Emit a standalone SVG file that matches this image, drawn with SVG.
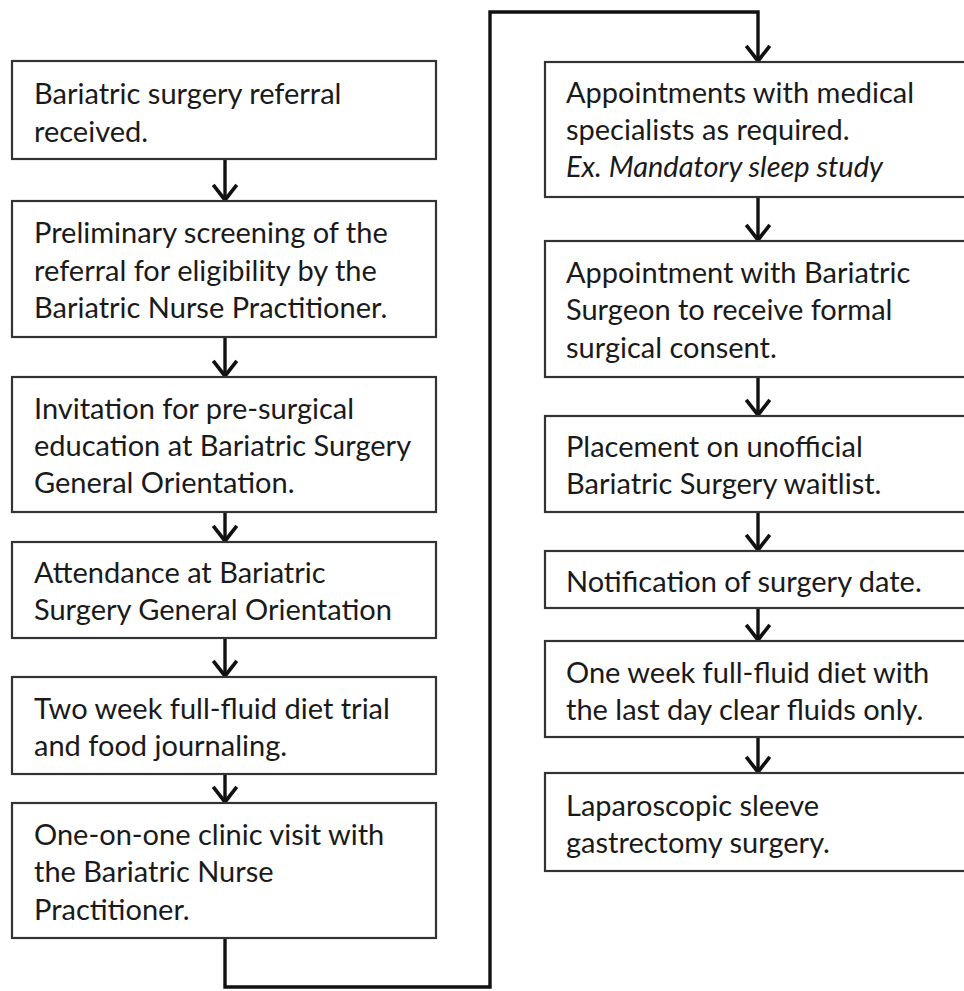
<svg xmlns="http://www.w3.org/2000/svg" width="964" height="991" viewBox="0 0 964 991">
  <style>
    .box { fill: #ffffff; stroke: #333333; stroke-width: 2.2; }
    .lbl { font-family: Lato, "Open Sans", "Liberation Sans", sans-serif; font-size: 29px; fill: #1a1a1a; }
    .it { font-style: italic; }
    .flow { fill: none; stroke: #111111; stroke-width: 3.4; }
  </style>
  <defs>
    <!-- open chevron head, drawn along +x so orient="auto" points it down the line -->
    <marker id="chev" markerUnits="userSpaceOnUse" markerWidth="24" markerHeight="30" viewBox="-18 -14 22 28" refX="0" refY="0" orient="auto">
      <path d="M-15,-11 L-1,0 L-15,11" fill="none" stroke="#111111" stroke-width="3.4"/>
    </marker>
  </defs>

  <rect width="964" height="991" fill="#ffffff"/>

  <!-- connectors -->
  <g id="connectors">
    <line class="flow" x1="225" y1="159" x2="225" y2="201" marker-end="url(#chev)"/>
    <line class="flow" x1="225" y1="337" x2="225" y2="377" marker-end="url(#chev)"/>
    <line class="flow" x1="225" y1="512" x2="225" y2="542" marker-end="url(#chev)"/>
    <line class="flow" x1="225" y1="638" x2="225" y2="677" marker-end="url(#chev)"/>
    <line class="flow" x1="225" y1="774" x2="225" y2="803" marker-end="url(#chev)"/>
    <path class="flow" d="M225,938 L225,987 L490,987 L490,12 L758,12 L758,62" marker-end="url(#chev)"/>
    <line class="flow" x1="758" y1="197" x2="758" y2="241" marker-end="url(#chev)"/>
    <line class="flow" x1="758" y1="377" x2="758" y2="416" marker-end="url(#chev)"/>
    <line class="flow" x1="758" y1="512" x2="758" y2="551" marker-end="url(#chev)"/>
    <line class="flow" x1="758" y1="608" x2="758" y2="641" marker-end="url(#chev)"/>
    <line class="flow" x1="758" y1="737" x2="758" y2="773" marker-end="url(#chev)"/>
  </g>

  <!-- left column -->
  <g id="referral">
    <rect class="box" x="12" y="61" width="424" height="98"/>
    <text class="lbl" x="34" y="104">Bariatric surgery referral</text>
    <text class="lbl" x="34" y="142">received.</text>
  </g>
  <g id="screening">
    <rect class="box" x="12" y="201" width="424" height="136"/>
    <text class="lbl" x="34" y="243">Preliminary screening of the</text>
    <text class="lbl" x="34" y="281">referral for eligibility by the</text>
    <text class="lbl" x="34" y="318">Bariatric Nurse Practitioner.</text>
  </g>
  <g id="invitation">
    <rect class="box" x="12" y="377" width="424" height="135"/>
    <text class="lbl" x="34" y="419">Invitation for pre-surgical</text>
    <text class="lbl" x="34" y="456">education at Bariatric Surgery</text>
    <text class="lbl" x="34" y="493">General Orientation.</text>
  </g>
  <g id="attendance">
    <rect class="box" x="12" y="542" width="424" height="96"/>
    <text class="lbl" x="34" y="583">Attendance at Bariatric</text>
    <text class="lbl" x="34" y="620">Surgery General Orientation</text>
  </g>
  <g id="diet-trial">
    <rect class="box" x="12" y="677" width="424" height="97"/>
    <text class="lbl" x="34" y="719">Two week full-fluid diet trial</text>
    <text class="lbl" x="34" y="756">and food journaling.</text>
  </g>
  <g id="clinic-visit">
    <rect class="box" x="12" y="803" width="424" height="135"/>
    <text class="lbl" x="34" y="845">One-on-one clinic visit with</text>
    <text class="lbl" x="34" y="882">the Bariatric Nurse</text>
    <text class="lbl" x="34" y="920">Practitioner.</text>
  </g>

  <!-- right column (boxes run off the right edge) -->
  <g id="specialists">
    <rect class="box" x="545" y="62" width="430" height="135"/>
    <text class="lbl" x="566" y="103">Appointments with medical</text>
    <text class="lbl" x="566" y="140">specialists as required.</text>
    <text class="lbl it" x="566" y="177">Ex. Mandatory sleep study</text>
  </g>
  <g id="surgeon-consent">
    <rect class="box" x="545" y="241" width="430" height="136"/>
    <text class="lbl" x="566" y="283">Appointment with Bariatric</text>
    <text class="lbl" x="566" y="320">Surgeon to receive formal</text>
    <text class="lbl" x="566" y="358">surgical consent.</text>
  </g>
  <g id="waitlist">
    <rect class="box" x="545" y="416" width="430" height="96"/>
    <text class="lbl" x="566" y="457">Placement on unofficial</text>
    <text class="lbl" x="566" y="494">Bariatric Surgery waitlist.</text>
  </g>
  <g id="surgery-date">
    <rect class="box" x="545" y="551" width="430" height="57"/>
    <text class="lbl" x="566" y="592">Notification of surgery date.</text>
  </g>
  <g id="pre-op-diet">
    <rect class="box" x="545" y="641" width="430" height="96"/>
    <text class="lbl" x="566" y="683">One week full-fluid diet with</text>
    <text class="lbl" x="566" y="720">the last day clear fluids only.</text>
  </g>
  <g id="sleeve-surgery">
    <rect class="box" x="545" y="773" width="430" height="98"/>
    <text class="lbl" x="566" y="816">Laparoscopic sleeve</text>
    <text class="lbl" x="566" y="853">gastrectomy surgery.</text>
  </g>
</svg>
